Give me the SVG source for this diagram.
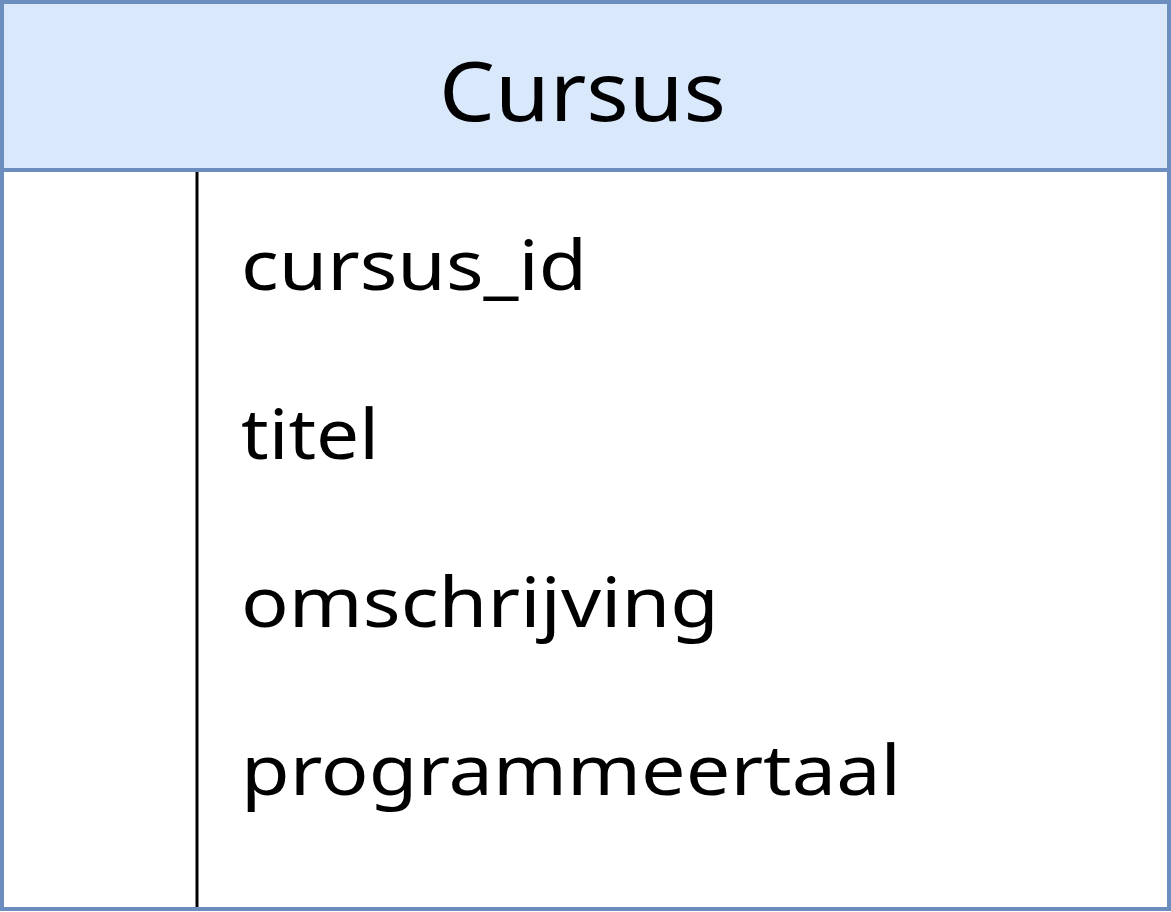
<svg xmlns="http://www.w3.org/2000/svg" width="1171" height="912" viewBox="0 0 1171 912">
<style>
.t{font-family:"Noto Sans","Open Sans",sans-serif;fill:#000}
.h{font-size:82px}
.f{font-size:69px}
</style>
<rect width="1171" height="912" fill="#fff"/>
<g id="cursus">
<rect x="2" y="2" width="1167" height="168" fill="#dae8fc" stroke="#6c8ebf" stroke-width="4"/>
<rect x="2" y="170" width="1167" height="739" fill="#fff" stroke="#6c8ebf" stroke-width="4"/>
<line x1="197" y1="172" x2="197" y2="907" stroke="#000" stroke-width="3"/>
<text class="t h" x="439" y="121" textLength="287" lengthAdjust="spacingAndGlyphs">Cursus</text>
<text class="t f" x="241" y="290" textLength="346" lengthAdjust="spacingAndGlyphs">cursus_id</text>
<text class="t f" x="241" y="459" textLength="138" lengthAdjust="spacingAndGlyphs">titel</text>
<text class="t f" x="241" y="627" textLength="478" lengthAdjust="spacingAndGlyphs">omschrijving</text>
<text class="t f" x="241" y="795" textLength="660" lengthAdjust="spacingAndGlyphs">programmeertaal</text>
</g>
<g id="connectors"></g>
</svg>
